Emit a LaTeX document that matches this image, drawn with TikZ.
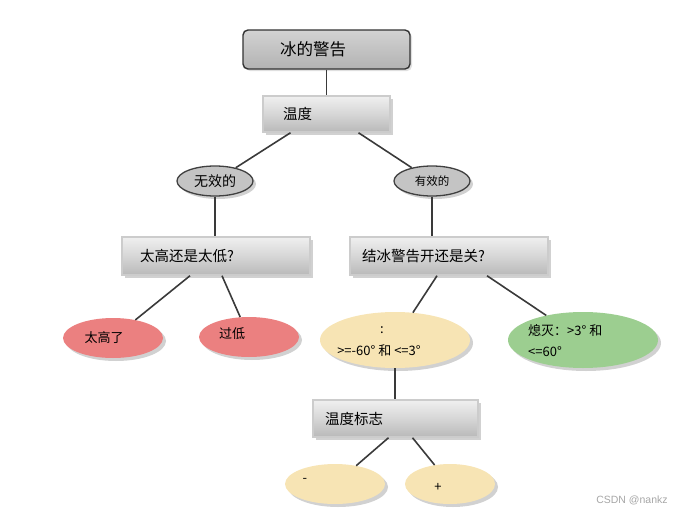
\documentclass[tikz,border=0pt]{standalone}
\usepackage{fontspec}
\setmainfont{Noto Sans CJK SC}
\newfontfamily\wmfont{Liberation Sans}
\usetikzlibrary{shapes.geometric,shadows}
\definecolor{redf}{HTML}{EB8080}
\definecolor{yelf}{HTML}{F7E4B4}
\definecolor{grnf}{HTML}{9CCE90}
\definecolor{grayf}{HTML}{C4C4C4}
\definecolor{linec}{HTML}{3A3A3A}
\tikzset{
  conn/.style={draw=linec, line width=1.6pt},
  gbox/.style={rectangle, draw=gray!40, line width=1.5pt, top color=gray!12, bottom color=gray!55,
    middle color=gray!32, align=left, font=\fontsize{14.5}{16}\selectfont, inner ysep=0pt,
    drop shadow={shadow xshift=3pt, shadow yshift=-3pt, fill=gray!60, opacity=0.6}},
  tbox/.style={rectangle, rounded corners=5pt, draw=black!80, line width=1.4pt, top color=gray!35,
    bottom color=gray!60, align=left, font=\fontsize{16.5}{18}\selectfont, inner ysep=0pt,
    drop shadow={shadow xshift=2pt, shadow yshift=-2pt, fill=gray!50, opacity=0.5}},
  oval/.style={ellipse, inner sep=0pt,
    drop shadow={shadow xshift=3pt, shadow yshift=-3pt, fill=gray!60, opacity=0.6}},
  goval/.style={oval, draw=black!75, line width=1.3pt, fill=grayf},
  txt/.style={inner sep=0pt, font=\fontsize{13}{15}\selectfont}
}
\begin{document}
\begin{tikzpicture}[x=1pt,y=-1pt]
\useasboundingbox (0,0) rectangle (680,514);
% boxes
\node[tbox, minimum width=167pt, minimum height=39pt, inner xsep=37pt, text width=93pt] (title) at (326.5,49.5) {冰的警告};
\node[gbox, minimum width=127pt, minimum height=36pt, inner xsep=20pt, text width=87pt] (temp) at (326.5,114) {温度};
\node[gbox, minimum width=188pt, minimum height=38pt, inner xsep=18pt, text width=152pt] (hilo) at (216,256) {太高还是太低?};
\node[gbox, minimum width=198pt, minimum height=38pt, inner xsep=12pt, text width=174pt] (onoff) at (449,256) {结冰警告开还是关?};
\node[gbox, minimum width=165pt, minimum height=37pt, inner xsep=12pt, text width=141pt] (flag) at (395.5,418.5) {温度标志};
% ovals
\node[goval, minimum width=76pt, minimum height=30pt, font=\fontsize{14}{16}\selectfont] (inv) at (215,181) {无效的};
\node[goval, minimum width=76pt, minimum height=30pt, font=\fontsize{11.5}{13}\selectfont] (val) at (432,181) {有效的};
\node[oval, fill=redf, minimum width=100pt, minimum height=40pt] (high) at (113,338) {};
\node[oval, fill=redf, minimum width=100pt, minimum height=40pt] (low) at (249,337) {};
\node[oval, fill=yelf, minimum width=150pt, minimum height=56pt] (range) at (395,340) {};
\node[oval, fill=grnf, minimum width=150pt, minimum height=56pt] (off) at (583,340) {};
\node[oval, fill=yelf, minimum width=100pt, minimum height=40pt] (minus) at (335,484) {};
\node[oval, fill=yelf, minimum width=90pt, minimum height=40pt] (plus) at (450,484) {};
% texts in ovals
\node[txt] (thigh) at (104,338) {太高了};
\node[txt] (tlow) at (232,334) {过低};
\node[txt] (tr1) at (382,330) {:};
\node[txt] (tr2) at (379,351) {>=-60° 和 <=3°};
\node[txt, anchor=west] (to1) at (528,331) {熄灭：>3° 和};
\node[txt, anchor=west] (to2) at (528,352) {<=60°};
\node[txt] (tminus) at (305,480) {-};
\node[txt] (tplus) at (438,487) {+};
% watermark
\node[inner sep=0pt, text=gray!70, font=\wmfont\fontsize{10.5}{12}\selectfont] (wm) at (632,500) {CSDN @nankz};
% connectors
\draw[conn] (title.south) -- (temp.north);
\draw[conn] ([xshift=-36pt]temp.south) -- (inv);
\draw[conn] ([xshift=32pt]temp.south) -- (val);
\draw[conn] (inv.south) -- (inv.south |- hilo.north);
\draw[conn] (val.south) -- (val.south |- onoff.north);
\draw[conn] ([xshift=-26pt]hilo.south) -- (high);
\draw[conn] ([xshift=6pt]hilo.south) -- (low);
\draw[conn] ([xshift=-12pt]onoff.south) -- (range);
\draw[conn] ([xshift=38pt]onoff.south) -- (off);
\draw[conn] (range.south) -- (range.south |- flag.north);
\draw[conn] ([xshift=-7pt]flag.south) -- (minus);
\draw[conn] ([xshift=17pt]flag.south) -- (plus);
\end{tikzpicture}
\end{document}
